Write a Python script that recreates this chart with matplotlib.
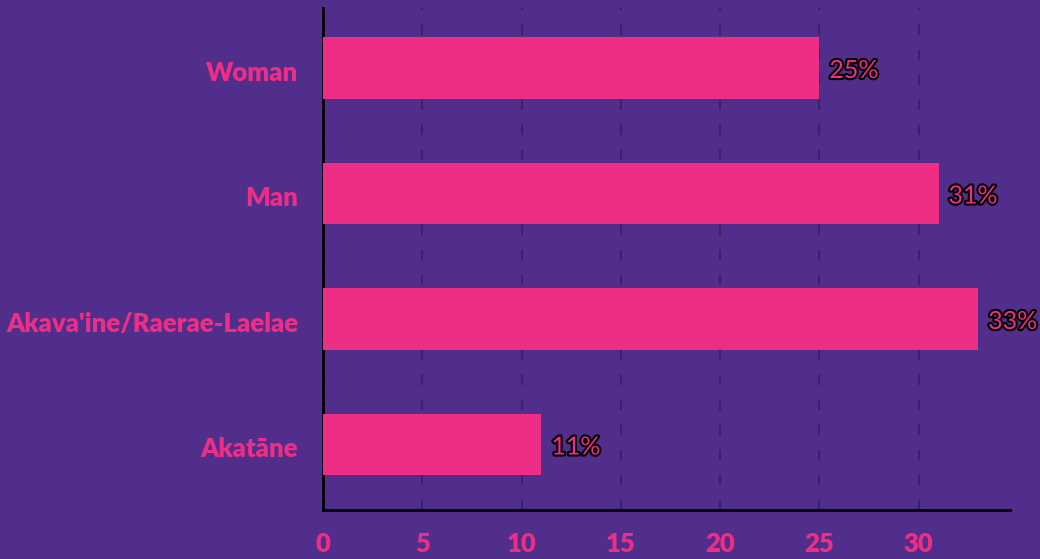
import matplotlib.pyplot as plt
import matplotlib.patheffects as pe
from matplotlib.transforms import ScaledTranslation

# -------------------------
# Data
# -------------------------
categories = ["Woman", "Man", "Akava'ine/Raerae-Laelae", "Akatāne"]
values = [25, 31, 33, 11]
xticks = [0, 5, 10, 15, 20, 25, 30]

BG = "#512e8c"
PINK = "#ee2e84"
GRID = "#3a2268"

plt.rcParams["font.family"] = ["Lato", "DejaVu Sans"]

fig = plt.figure(figsize=(10.4, 5.59), dpi=100, facecolor=BG)
ax = fig.add_axes([323 / 1040, 49 / 559, 687 / 1040, 502 / 559])
ax.set_facecolor(BG)

ypos = list(range(len(categories)))
ax.barh(ypos, values, height=0.49, color=PINK, zorder=3)

for y, v in zip(ypos, values):
    ax.text(v + 0.5, y + 0.02, f"{v}%", va="center", ha="left", fontsize=18,
            color=PINK, zorder=4,
            path_effects=[pe.withStroke(linewidth=3, foreground="black")])

ax.set_ylim(3.522, -0.478)
ax.set_xlim(0, 34.6)
ax.set_yticks(ypos)
ax.set_yticklabels(categories, fontsize=18.5, fontweight="heavy", color=PINK)
ax.set_xticks(xticks)
ax.set_xticklabels([str(t) for t in xticks], fontsize=18.5, fontweight="heavy", color=PINK)
ax.tick_params(axis="both", length=0)
ax.tick_params(axis="y", pad=18)
ax.tick_params(axis="x", pad=16)

# nudge category labels a couple of pixels down
shift = ScaledTranslation(0, -2 / 72, fig.dpi_scale_trans)
for lbl in ax.get_yticklabels():
    lbl.set_transform(lbl.get_transform() + shift)

ax.grid(axis="x", linestyle=(0, (5, 7)), color=GRID, linewidth=1.5, zorder=0)
ax.grid(axis="y", visible=False)

for side in ["top", "right"]:
    ax.spines[side].set_visible(False)
for side in ["left", "bottom"]:
    ax.spines[side].set_color("black")
    ax.spines[side].set_linewidth(2)

fig.savefig("out.png", dpi=100, facecolor=BG)
